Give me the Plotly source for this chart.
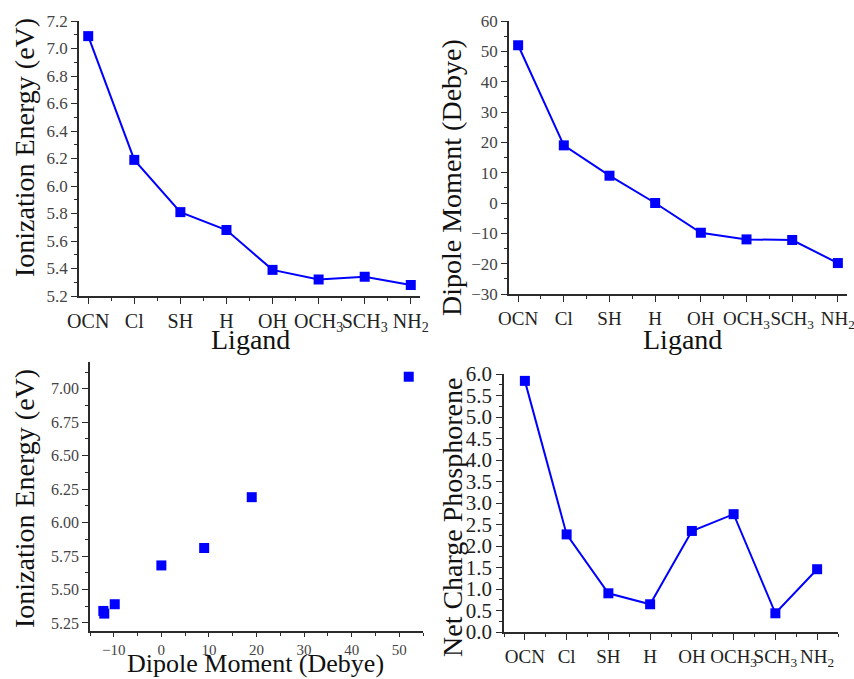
import plotly.graph_objects as go

# Ligand series
ligands = ["OCN", "Cl", "SH", "H", "OH", "OCH<sub>3</sub>", "SCH<sub>3</sub>", "NH<sub>2</sub>"]
ionization_energy = [7.09, 6.19, 5.81, 5.68, 5.39, 5.32, 5.34, 5.28]
dipole_moment = [52.0, 19.0, 9.0, 0.0, -9.8, -12.0, -12.2, -19.8]
net_charge = [5.84, 2.27, 0.90, 0.645, 2.35, 2.74, 0.435, 1.46]

W, H = 854, 679
FONT = "Liberation Serif"
BLUE = "#0000ff"
AX = "#2b2b2b"


def fx(px):
    return px / W


def fy(py):
    return 1 - py / H


idx = list(range(len(ligands)))

fig = go.Figure()

line_style = dict(color=BLUE, width=2)
marker_style = dict(symbol="square", size=10, color=BLUE)

fig.add_trace(go.Scatter(x=idx, y=ionization_energy, mode="lines+markers",
                         line=line_style, marker=marker_style,
                         xaxis="x", yaxis="y"))
fig.add_trace(go.Scatter(x=idx, y=dipole_moment, mode="lines+markers",
                         line=line_style, marker=marker_style,
                         xaxis="x2", yaxis="y2"))
fig.add_trace(go.Scatter(x=dipole_moment, y=ionization_energy, mode="markers",
                         marker=marker_style, cliponaxis=True,
                         xaxis="x3", yaxis="y3"))
fig.add_trace(go.Scatter(x=idx, y=net_charge, mode="lines+markers",
                         line=line_style, marker=marker_style,
                         xaxis="x4", yaxis="y4"))


def axis_common(**kw):
    d = dict(showline=True, linecolor=AX, linewidth=1.5, mirror=False,
             ticks="outside", ticklen=6, tickwidth=1.2, tickcolor=AX,
             showgrid=False, zeroline=False, fixedrange=True,
             tickangle=0, automargin=False, ticklabeloverflow="allow")
    d.update(kw)
    return d


def minor(dt, t0=0):
    return dict(ticks="outside", ticklen=3, tickwidth=1.2, tickcolor=AX,
                dtick=dt, tick0=t0)


def cat_xaxis(domain, rng, anchor, size):
    return axis_common(domain=domain, range=rng, anchor=anchor,
                       tickmode="array", tickvals=idx, ticktext=ligands,
                       tickfont=dict(family=FONT, size=size, color="#222"),
                       minor=minor(0.5))


fig.update_layout(
    width=W, height=H,
    margin=dict(l=0, r=0, t=0, b=0),
    paper_bgcolor="white", plot_bgcolor="white",
    showlegend=False,
    xaxis=cat_xaxis([fx(79), fx(420)], [-0.2, 7.2], "y", 20),
    yaxis=axis_common(domain=[fy(296), fy(21)], range=[5.2, 7.2], anchor="x",
                      dtick=0.2, tick0=5.2, tickformat=".1f",
                      tickfont=dict(family=FONT, size=17, color="#444"),
                      minor=minor(0.1)),
    xaxis2=cat_xaxis([fx(509), fx(847)], [-0.2, 7.2], "y2", 19),
    yaxis2=axis_common(domain=[fy(294), fy(21)], range=[-30, 60], anchor="x2",
                       dtick=10, tick0=0,
                       tickfont=dict(family=FONT, size=17, color="#444"),
                       minor=minor(5)),
    xaxis3=axis_common(domain=[fx(90), fx(423)], range=[-15, 55], anchor="y3",
                       dtick=10, tick0=0, ticklen=4,
                       tickfont=dict(family=FONT, size=15, color="#444"),
                       minor=minor(5)),
    yaxis3=axis_common(domain=[fy(631), fy(362)], range=[5.19, 7.2], anchor="x3",
                       dtick=0.25, tick0=5.25, tickformat=".2f",
                       tickfont=dict(family=FONT, size=16, color="#444"),
                       minor=minor(0.125, 5.25)),
    xaxis4=cat_xaxis([fx(504), fx(838)], [-0.5, 7.5], "y4", 19),
    yaxis4=axis_common(domain=[fy(632), fy(374)], range=[0, 6], anchor="x4",
                       dtick=0.5, tick0=0, tickformat=".1f",
                       tickfont=dict(family=FONT, size=21, color="#222"),
                       minor=minor(0.25)),
)


def title(text, px, py, angle=0, size=28):
    fig.add_annotation(text=text, x=fx(px), y=fy(py), xref="paper", yref="paper",
                       showarrow=False, textangle=angle,
                       font=dict(family=FONT, size=size, color="#111"),
                       xanchor="center", yanchor="middle")


title("Ionization Energy (eV)", 24, 148, -90)
title("Ligand", 250, 339)
title("Dipole Moment (Debye)", 452, 178, -90)
title("Ligand", 682, 339)
title("Ionization Energy (eV)", 24, 499, -90)
title("Dipole Moment (Debye)", 255, 663, size=26)
title("Net Charge Phosphorene", 452, 518, -90)

fig.write_html("out.html")
